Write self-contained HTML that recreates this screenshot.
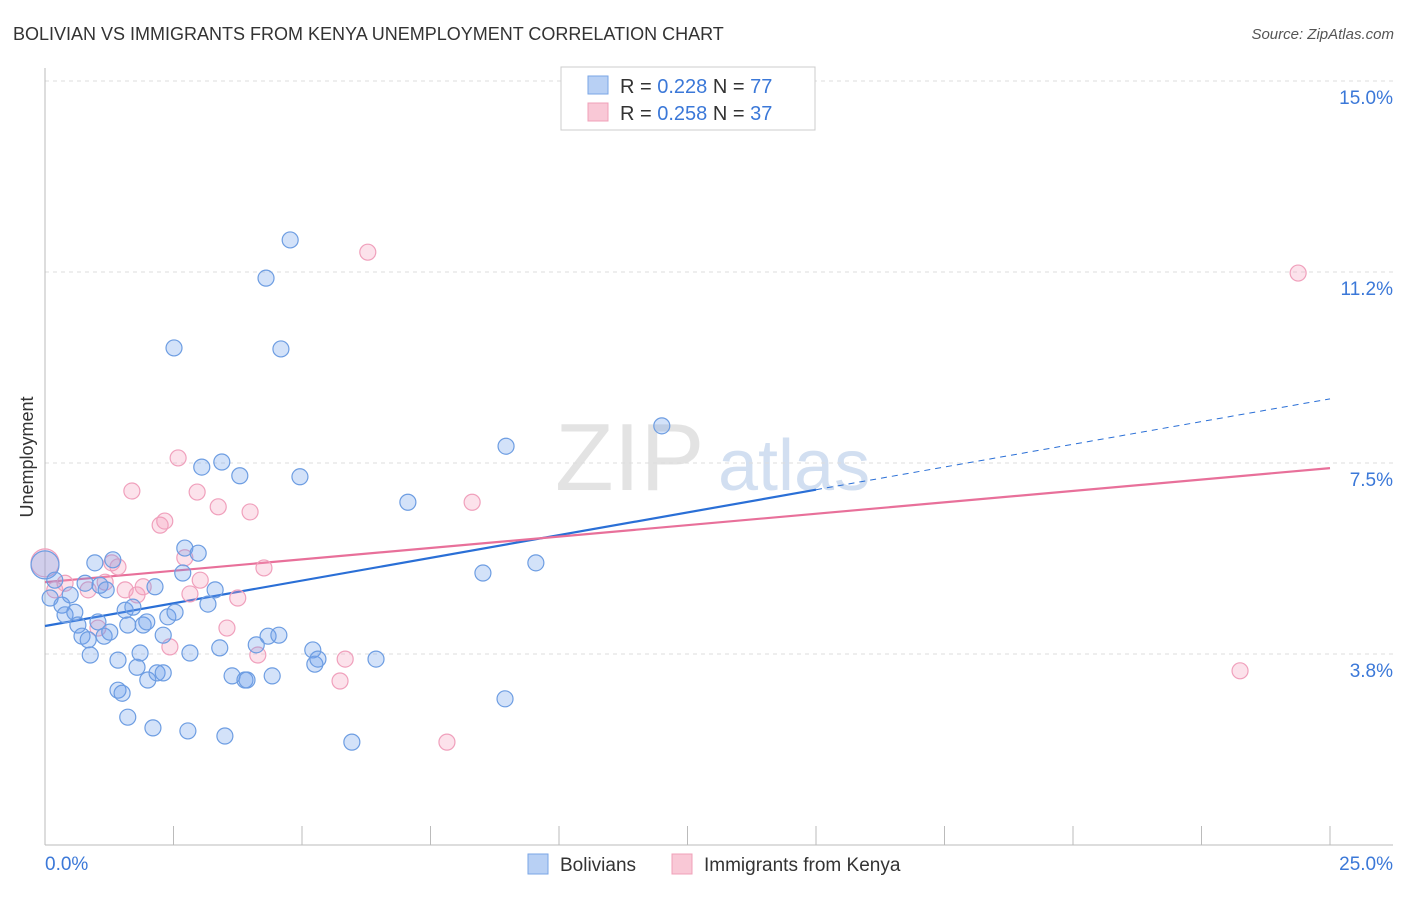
<!DOCTYPE html>
<html><head><meta charset="utf-8">
<style>
body{margin:0;background:#fff;font-family:"Liberation Sans",sans-serif;}
svg text{font-family:"Liberation Sans",sans-serif;}
</style></head>
<body>
<svg width="1406" height="892" xmlns="http://www.w3.org/2000/svg" id="chart">
<text x="13" y="40" font-size="18" fill="#333">BOLIVIAN VS IMMIGRANTS FROM KENYA UNEMPLOYMENT CORRELATION CHART</text>
<text x="1394" y="39" font-size="15" fill="#555" text-anchor="end" font-style="italic">Source: ZipAtlas.com</text>
<text x="555" y="490" font-size="96" fill="#ddd" font-family="Liberation Serif" opacity="0.8">ZIP</text>
<text x="718" y="490" font-size="72" fill="#c8d8ee" opacity="0.8">atlas</text>
<text transform="translate(33,457) rotate(-90)" font-size="18" fill="#333" text-anchor="middle">Unemployment</text>
<g id="grid"></g><g id="axes"></g><g id="trends"></g><g id="pts"></g>
<g>
<rect x="561" y="67" width="254" height="63" fill="#fff" stroke="#ccc"/>
<rect x="588" y="76" width="20" height="18" fill="#b8d0f4" stroke="#7aa6e6"/>
<text x="620" y="93" font-size="20" fill="#333">R = <tspan fill="#3b78d8">0.228</tspan>   N = <tspan fill="#3b78d8">77</tspan></text>
<rect x="588" y="103" width="20" height="18" fill="#f9c8d6" stroke="#f0a0b8"/>
<text x="620" y="120" font-size="20" fill="#333">R = <tspan fill="#3b78d8">0.258</tspan>   N = <tspan fill="#3b78d8">37</tspan></text>
</g>
<g>
<rect x="528" y="854" width="20" height="20" fill="#b8d0f4" stroke="#7aa6e6"/>
<text x="560" y="871" font-size="19" fill="#333">Bolivians</text>
<rect x="672" y="854" width="20" height="20" fill="#f9c8d6" stroke="#f0a0b8"/>
<text x="704" y="871" font-size="19" fill="#333">Immigrants from Kenya</text>
</g>
</svg>
<script>
const yTicks=[3.75,7.5,11.25,15];
const yTickLabels=["3.8%","7.5%","11.2%","15.0%"];
const xTickVals=[0,2.5,5,7.5,10,12.5,15,17.5,20,22.5,25];
const blueX=[0,0.10,0.19,0.33,0.39,0.49,0.58,0.64,0.72,0.78,0.84,0.88,0.97,1.03,1.07,1.15,1.19,1.26,1.32,1.42,1.42,1.50,1.56,1.61,1.61,1.71,1.79,1.85,1.91,1.98,2.00,2.10,2.14,2.18,2.30,2.30,2.39,2.53,2.51,2.68,2.72,2.78,2.82,2.98,3.05,3.17,3.31,3.40,3.44,3.50,3.64,3.79,3.89,3.93,4.11,4.30,4.34,4.42,4.55,4.59,4.77,4.96,5.21,5.25,5.31,5.97,6.44,7.06,8.52,8.95,8.97,9.55,12.00];
const blueY=[5.50,4.85,5.20,4.71,4.52,4.91,4.57,4.32,4.10,5.14,4.03,3.73,5.54,4.38,5.10,4.10,5.01,4.18,5.60,3.63,3.04,2.98,4.61,2.51,4.32,4.67,3.49,3.77,4.32,4.38,3.24,2.30,5.07,3.38,3.38,4.12,4.48,4.57,9.76,5.34,5.83,2.24,3.77,5.73,7.42,4.73,5.01,3.87,7.52,2.14,3.32,7.25,3.24,3.24,3.93,11.13,4.10,3.32,4.12,9.74,11.88,7.23,3.83,3.55,3.65,2.02,3.65,6.73,5.34,2.87,7.83,5.54,8.23];
const pinkX=[0,0.19,0.39,0.84,1.03,1.17,1.30,1.42,1.56,1.69,1.79,1.91,2.24,2.33,2.43,2.59,2.72,2.82,2.96,3.02,3.37,3.54,3.75,3.99,4.14,4.26,5.74,5.84,6.28,7.82,8.31,23.25,24.38];
const pinkY=[5.54,5.01,5.14,5.01,4.26,5.16,5.54,5.46,5.01,6.95,4.91,5.07,6.28,6.36,3.89,7.60,5.64,4.93,6.93,5.20,6.64,4.26,4.85,6.54,3.73,5.44,3.22,3.65,11.64,2.02,6.73,3.42,11.23];
const blueTrend=[4.30,8.76];
const pinkTrend=[5.16,7.40];
const NS="http://www.w3.org/2000/svg";
const X=v=>45+v*51.4, Y=v=>845-v*50.93;
function mk(t,a,p){const e=document.createElementNS(NS,t);for(const k in a)e.setAttribute(k,a[k]);document.getElementById(p).appendChild(e);return e;}
yTicks.forEach((t,i)=>{
 const g=mk('line',{x1:45,x2:1393,y1:Y(t),y2:Y(t),stroke:'#ddd','stroke-dasharray':'4,4'},'grid');
 
 
 const l=mk('text',{x:1393,y:Y(t)+23,'font-size':19,fill:'#3b78d8','text-anchor':'end'},'grid');
 l.textContent=yTickLabels[i];
 
 
});
const ax=mk('line',{x1:45,x2:45,y1:68,y2:845,stroke:'#bbb'},'axes');


const bx=mk('line',{x1:45,x2:1393,y1:845,y2:845,stroke:'#bbb'},'axes');


xTickVals.forEach(v=>{const t=mk('line',{x1:X(v),x2:X(v),y1:826,y2:845,stroke:'#bbb'},'axes');
 
 });
const x0=mk('text',{x:45,y:870,'font-size':19,fill:'#3b78d8'},'axes');x0.textContent='0.0%';


const x1=mk('text',{x:1393,y:870,'font-size':19,fill:'#3b78d8','text-anchor':'end'},'axes');x1.textContent='25.0%';


function pts(xs,ys,fill,stroke,name){xs.forEach((x,i)=>{const c=mk('circle',{cx:X(x),cy:Y(ys[i]),r:i===0?14:8,fill:fill,stroke:stroke,'stroke-width':1.2},'pts');
 
 });}
pts(pinkX,pinkY,'rgba(244,160,188,0.3)','#f0a0bc','kenya-point');
pts(blueX,blueY,'rgba(110,160,235,0.3)','#6d9de2','bolivian-point');
const bm=blueTrend[0]+(blueTrend[1]-blueTrend[0])*15/25;
const b1=mk('line',{x1:X(0),y1:Y(blueTrend[0]),x2:X(15),y2:Y(bm),stroke:'#2a6fd6','stroke-width':2.2},'trends');


const b2=mk('line',{x1:X(15),y1:Y(bm),x2:X(25),y2:Y(blueTrend[1]),stroke:'#2a6fd6','stroke-width':1,'stroke-dasharray':'6,5'},'trends');


const p1=mk('line',{x1:X(0),y1:Y(pinkTrend[0]),x2:X(25),y2:Y(pinkTrend[1]),stroke:'#e8709a','stroke-width':2.2},'trends');


</script>
</body></html>
